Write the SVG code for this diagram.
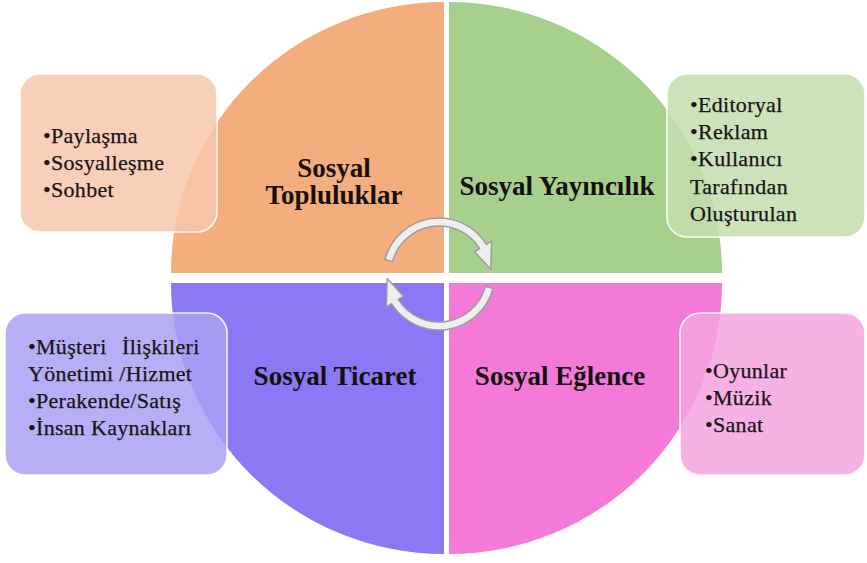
<svg xmlns="http://www.w3.org/2000/svg" width="867" height="563" viewBox="0 0 867 563">
<style>
.lbl{font-family:"Liberation Serif","Times New Roman",serif;font-weight:bold;font-size:27px;fill:#161010;text-anchor:middle}
.item{font-family:"Liberation Serif","Times New Roman",serif;font-size:22px;fill:#1a1414;stroke:#1a1414;stroke-width:0.25;letter-spacing:0.3px}
.box{stroke:#ffffff;stroke-width:1.6;stroke-opacity:0.9}
.arrow{fill:#eeeeee;stroke:#9c9c9c;stroke-width:1.5;stroke-linejoin:round}
</style>
<rect width="867" height="563" fill="#ffffff"/>
<g id="q-topluluklar">
<path d="M444 273 L171 273 A273 271 0 0 1 444 2 Z" fill="#F4AD7C"/>
<text class="lbl" x="334" y="177">Sosyal</text>
<text class="lbl" x="334" y="204">Topluluklar</text>
</g>
<g id="q-yayincilik">
<path d="M449 273 L449 2 A273 271 0 0 1 722 273 Z" fill="#A8D08D"/>
<text class="lbl" x="557" y="195">Sosyal Yayıncılık</text>
</g>
<g id="q-ticaret">
<path d="M444 283 L444 554 A273 271 0 0 1 171 283 Z" fill="#8B78F5"/>
<text class="lbl" x="335" y="385">Sosyal Ticaret</text>
</g>
<g id="q-eglence">
<path d="M449 283 L722 283 A273 271 0 0 1 449 554 Z" fill="#F37AD6"/>
<text class="lbl" x="560" y="385">Sosyal Eğlence</text>
</g>
<g id="connectors">
<path class="arrow" d="M384.9 259.5 A56 56 0 0 1 486.5 244.3 L491.6 241.1 L490.8 269.5 L474.6 251.7 L479.7 248.6 A48 48 0 0 0 392.6 261.6 Z"/>
<path class="arrow" d="M493.1 288.5 A56 56 0 0 1 391.5 303.7 L386.4 306.9 L387.2 278.5 L403.4 296.3 L398.3 299.4 A48 48 0 0 0 485.4 286.4 Z"/>
</g>
<g id="box-topluluklar">
<rect class="box" x="20" y="74" width="197" height="158" rx="20" fill="#F7C7AB" fill-opacity="0.85"/>
<text class="item" x="43" y="143">•Paylaşma</text>
<text class="item" x="43" y="170">•Sosyalleşme</text>
<text class="item" x="43" y="197">•Sohbet</text>
</g>
<g id="box-yayincilik">
<rect class="box" x="667" y="74" width="198" height="163" rx="20" fill="#C2DDAF" fill-opacity="0.85"/>
<text class="item" x="690" y="112">•Editoryal</text>
<text class="item" x="690" y="139">•Reklam</text>
<text class="item" x="690" y="166">•Kullanıcı</text>
<text class="item" x="690" y="194">Tarafından</text>
<text class="item" x="690" y="221">Oluşturulan</text>
</g>
<g id="box-ticaret">
<rect class="box" x="5" y="313" width="222" height="162" rx="20" fill="#AAA1F3" fill-opacity="0.85"/>
<text class="item" x="28" y="354">•Müşteri<tspan x="122">İlişkileri</tspan></text>
<text class="item" x="28" y="381">Yönetimi /Hizmet</text>
<text class="item" x="28" y="408">•Perakende/Satış</text>
<text class="item" x="28" y="435">•İnsan Kaynakları</text>
</g>
<g id="box-eglence">
<rect class="box" x="680" y="313" width="185" height="162" rx="20" fill="#F5A4DF" fill-opacity="0.85"/>
<text class="item" x="705" y="378">•Oyunlar</text>
<text class="item" x="705" y="405">•Müzik</text>
<text class="item" x="705" y="432">•Sanat</text>
</g>
</svg>
